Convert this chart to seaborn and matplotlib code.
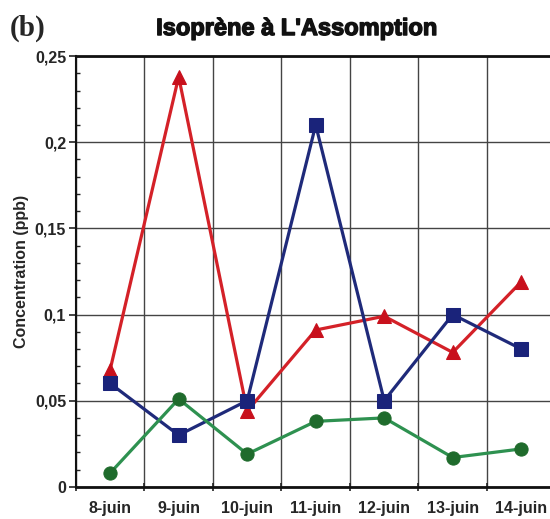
import matplotlib
matplotlib.use("Agg")
import matplotlib.pyplot as plt
import matplotlib.patheffects as pe
import seaborn as sns
import pandas as pd
import numpy as np
from matplotlib.ticker import MultipleLocator, FixedLocator, NullFormatter

days = ["8-juin", "9-juin", "10-juin", "11-juin", "12-juin", "13-juin", "14-juin"]
red_vals = [0.068, 0.238, 0.044, 0.091, 0.099, 0.078, 0.119]
blue_vals = [0.060, 0.030, 0.050, 0.210, 0.050, 0.100, 0.080]
green_vals = [0.008, 0.051, 0.019, 0.038, 0.040, 0.017, 0.022]
y_labels = ["0", "0,05", "0,1", "0,15", "0,2", "0,25"]

sns.set_theme(style="white")
plt.rcParams['font.family'] = ['Liberation Sans', 'DejaVu Sans']

fig = plt.figure(figsize=(5.5, 5.19), dpi=100)
ax = fig.add_axes([0.138, 0.062, 0.872, 0.830])

x = np.arange(len(days))
series = [
    (red_vals, "#d42128", "#c8101c", "^"),
    (blue_vals, "#1f2a7a", "#1a237a", "s"),
    (green_vals, "#2e9150", "#1f6b2c", "o"),
]
for vals, lc, mc, mk in series:
    df = pd.DataFrame({"x": x, "y": vals})
    sns.lineplot(data=df, x="x", y="y", ax=ax, color=lc, linewidth=2.3,
                 marker=mk, markersize=9.5, markerfacecolor=mc,
                 markeredgecolor=mc, zorder=3)

ax.set_xlim(-0.5, 6.5)
ax.set_ylim(0, 0.25)

ax.xaxis.set_major_locator(FixedLocator(np.arange(-0.5, 7.0, 1.0)))
ax.xaxis.set_major_formatter(NullFormatter())
ax.xaxis.set_minor_locator(FixedLocator(x))
ax.set_xticklabels(days, minor=True)
ax.tick_params(axis="x", which="major", length=6, width=1.2, direction="inout", color="#222222", bottom=True)
ax.tick_params(axis="x", which="minor", length=0, pad=10, labelsize=11.5)
for lab in ax.get_xticklabels(minor=True):
    lab.set_fontweight("bold")

ax.yaxis.set_major_locator(FixedLocator([0, 0.05, 0.1, 0.15, 0.2, 0.25]))
ax.set_yticklabels(y_labels)
ax.yaxis.set_minor_locator(MultipleLocator(0.01))
ax.tick_params(axis="y", which="major", length=5, width=1.2, direction="out", color="#222222", left=True, labelsize=11.5, pad=2)
ax.tick_params(axis="y", which="minor", length=3, width=1.0, direction="in", color="#222222", left=True)
for lab in ax.get_yticklabels():
    lab.set_fontweight("bold")

ax.grid(True, which="major", color="#444444", linewidth=1.0)
ax.set_axisbelow(True)

for side in ["top", "bottom", "left"]:
    ax.spines[side].set_color("#111111")
ax.spines["top"].set_linewidth(2.0)
ax.spines["bottom"].set_linewidth(2.0)
ax.spines["left"].set_linewidth(1.5)
ax.spines["right"].set_visible(False)

ax.set_xlabel("")
ax.set_ylabel("Concentration (ppb)", fontsize=11.5, fontweight="bold", labelpad=4)

fig.text(0.54, 0.945, "Isoprène à L'Assomption", ha="center", va="center",
         fontsize=17, fontweight="bold", color="#111111",
         path_effects=[pe.withStroke(linewidth=1.0, foreground="#111111")])
fig.text(0.018, 0.945, "(b)", ha="left", va="center", fontsize=21,
         fontweight="bold", family="Liberation Serif")

fig.savefig("out.png", dpi=100)
